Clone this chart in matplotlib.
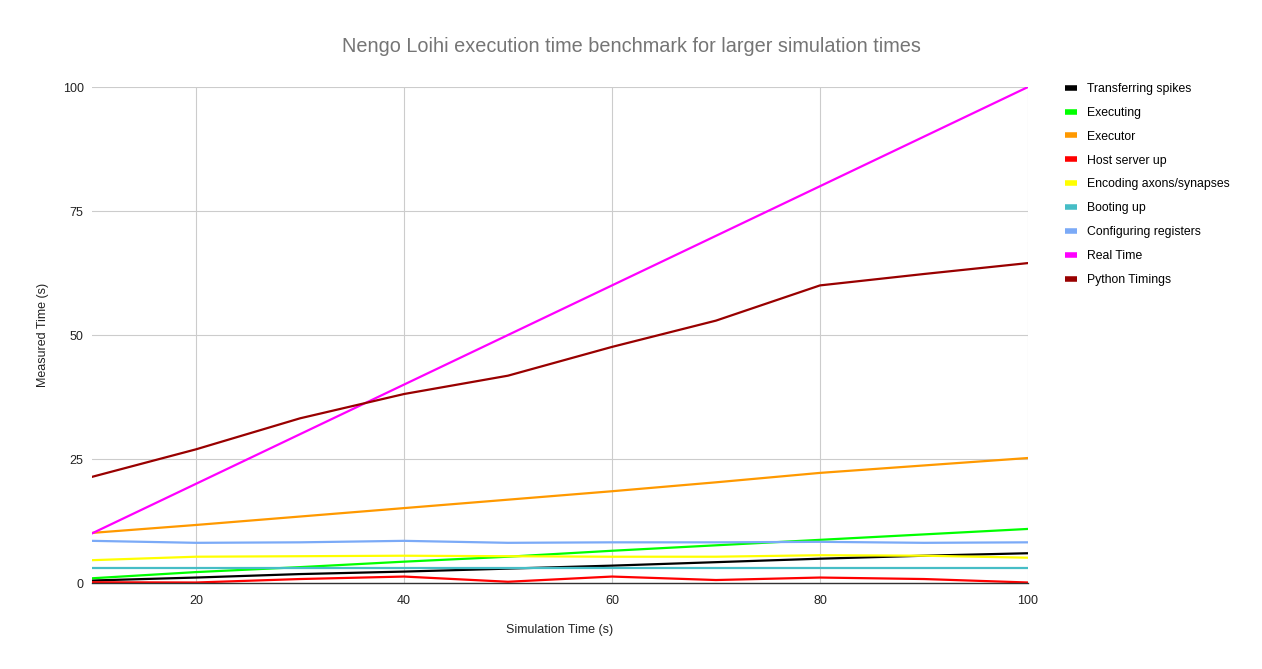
import numpy as np
import matplotlib.pyplot as plt
from matplotlib.lines import Line2D

plt.rcParams['font.family'] = ['Liberation Sans', 'DejaVu Sans']

# simulation time (s)
sim_time = [10, 20, 30, 40, 50, 60, 70, 80, 90, 100]

# measured times (s) per phase
transferring = [0.5, 1.1, 1.8, 2.3, 2.9, 3.5, 4.2, 4.9, 5.5, 6.0]
executing = [0.95, 2.2, 3.2, 4.3, 5.3, 6.5, 7.6, 8.7, 9.8, 10.9]
executor = [10.1, 11.7, 13.4, 15.1, 16.8, 18.5, 20.3, 22.2, 23.7, 25.2]
host_up = [0.15, 0.1, 0.8, 1.3, 0.25, 1.3, 0.6, 1.1, 0.8, 0.1]
encoding = [4.6, 5.3, 5.4, 5.5, 5.4, 5.3, 5.3, 5.6, 5.5, 5.1]
booting = [3.0, 3.0, 3.0, 3.0, 3.0, 3.0, 3.0, 3.0, 3.0, 3.0]
config_regs = [8.5, 8.1, 8.2, 8.5, 8.1, 8.2, 8.2, 8.3, 8.1, 8.2]
real_time = [10, 20, 30, 40, 50, 60, 70, 80, 90, 100]
python_t = [21.4, 26.95, 33.2, 38.1, 41.8, 47.6, 52.9, 60.0, 62.3, 64.5]

series = [
    ("Transferring spikes", transferring, "#000000"),
    ("Executing", executing, "#00ff00"),
    ("Executor", executor, "#ff9900"),
    ("Host server up", host_up, "#ff0000"),
    ("Encoding axons/synapses", encoding, "#ffff00"),
    ("Booting up", booting, "#46bdc6"),
    ("Configuring registers", config_regs, "#7baaf7"),
    ("Real Time", real_time, "#ff00ff"),
    ("Python Timings", python_t, "#990000"),
]

fig = plt.figure(figsize=(12.62, 6.69), dpi=100)
ax = fig.add_axes([92/1262, 1-583/669, (1028-92)/1262, (583-87)/669])

for name, vals, col in series:
    ax.plot(sim_time, vals, color=col, lw=1.6, label=name, solid_joinstyle='round')

ax.set_xlim(10, 100)
ax.set_ylim(0, 100)
ax.set_xticks([20, 40, 60, 80, 100])
ax.set_yticks([0, 25, 50, 75, 100])
ax.grid(True, color='#cccccc', lw=0.8)
ax.set_axisbelow(True)
for s in ['top', 'right', 'left']:
    ax.spines[s].set_visible(False)
ax.spines['bottom'].set_color('#333333')
ax.spines['bottom'].set_linewidth(1.0)
ax.tick_params(length=0, labelsize=9, colors='#222222', pad=6)
ax.tick_params(axis='x', pad=9)

ax.set_xlabel("Simulation Time (s)", fontsize=9, color='#222222', labelpad=12)
ax.set_ylabel("Measured Time (s)", fontsize=9, color='#222222', labelpad=10)

fig.text(631/1262, 1-46/669, "Nengo Loihi execution time benchmark for larger simulation times",
         ha='center', va='center', fontsize=14.3, color='#757575')

handles = [Line2D([], [], color=c, lw=4, solid_capstyle='butt') for _, _, c in series]
fig.legend(handles, [n for n, _, _ in series], loc='upper left',
           bbox_to_anchor=(1054/1262, 1-72/669), frameon=False, fontsize=8.8,
           handlelength=1.0, handletextpad=0.8, labelspacing=0.97)

fig.savefig("out.png", dpi=100)
